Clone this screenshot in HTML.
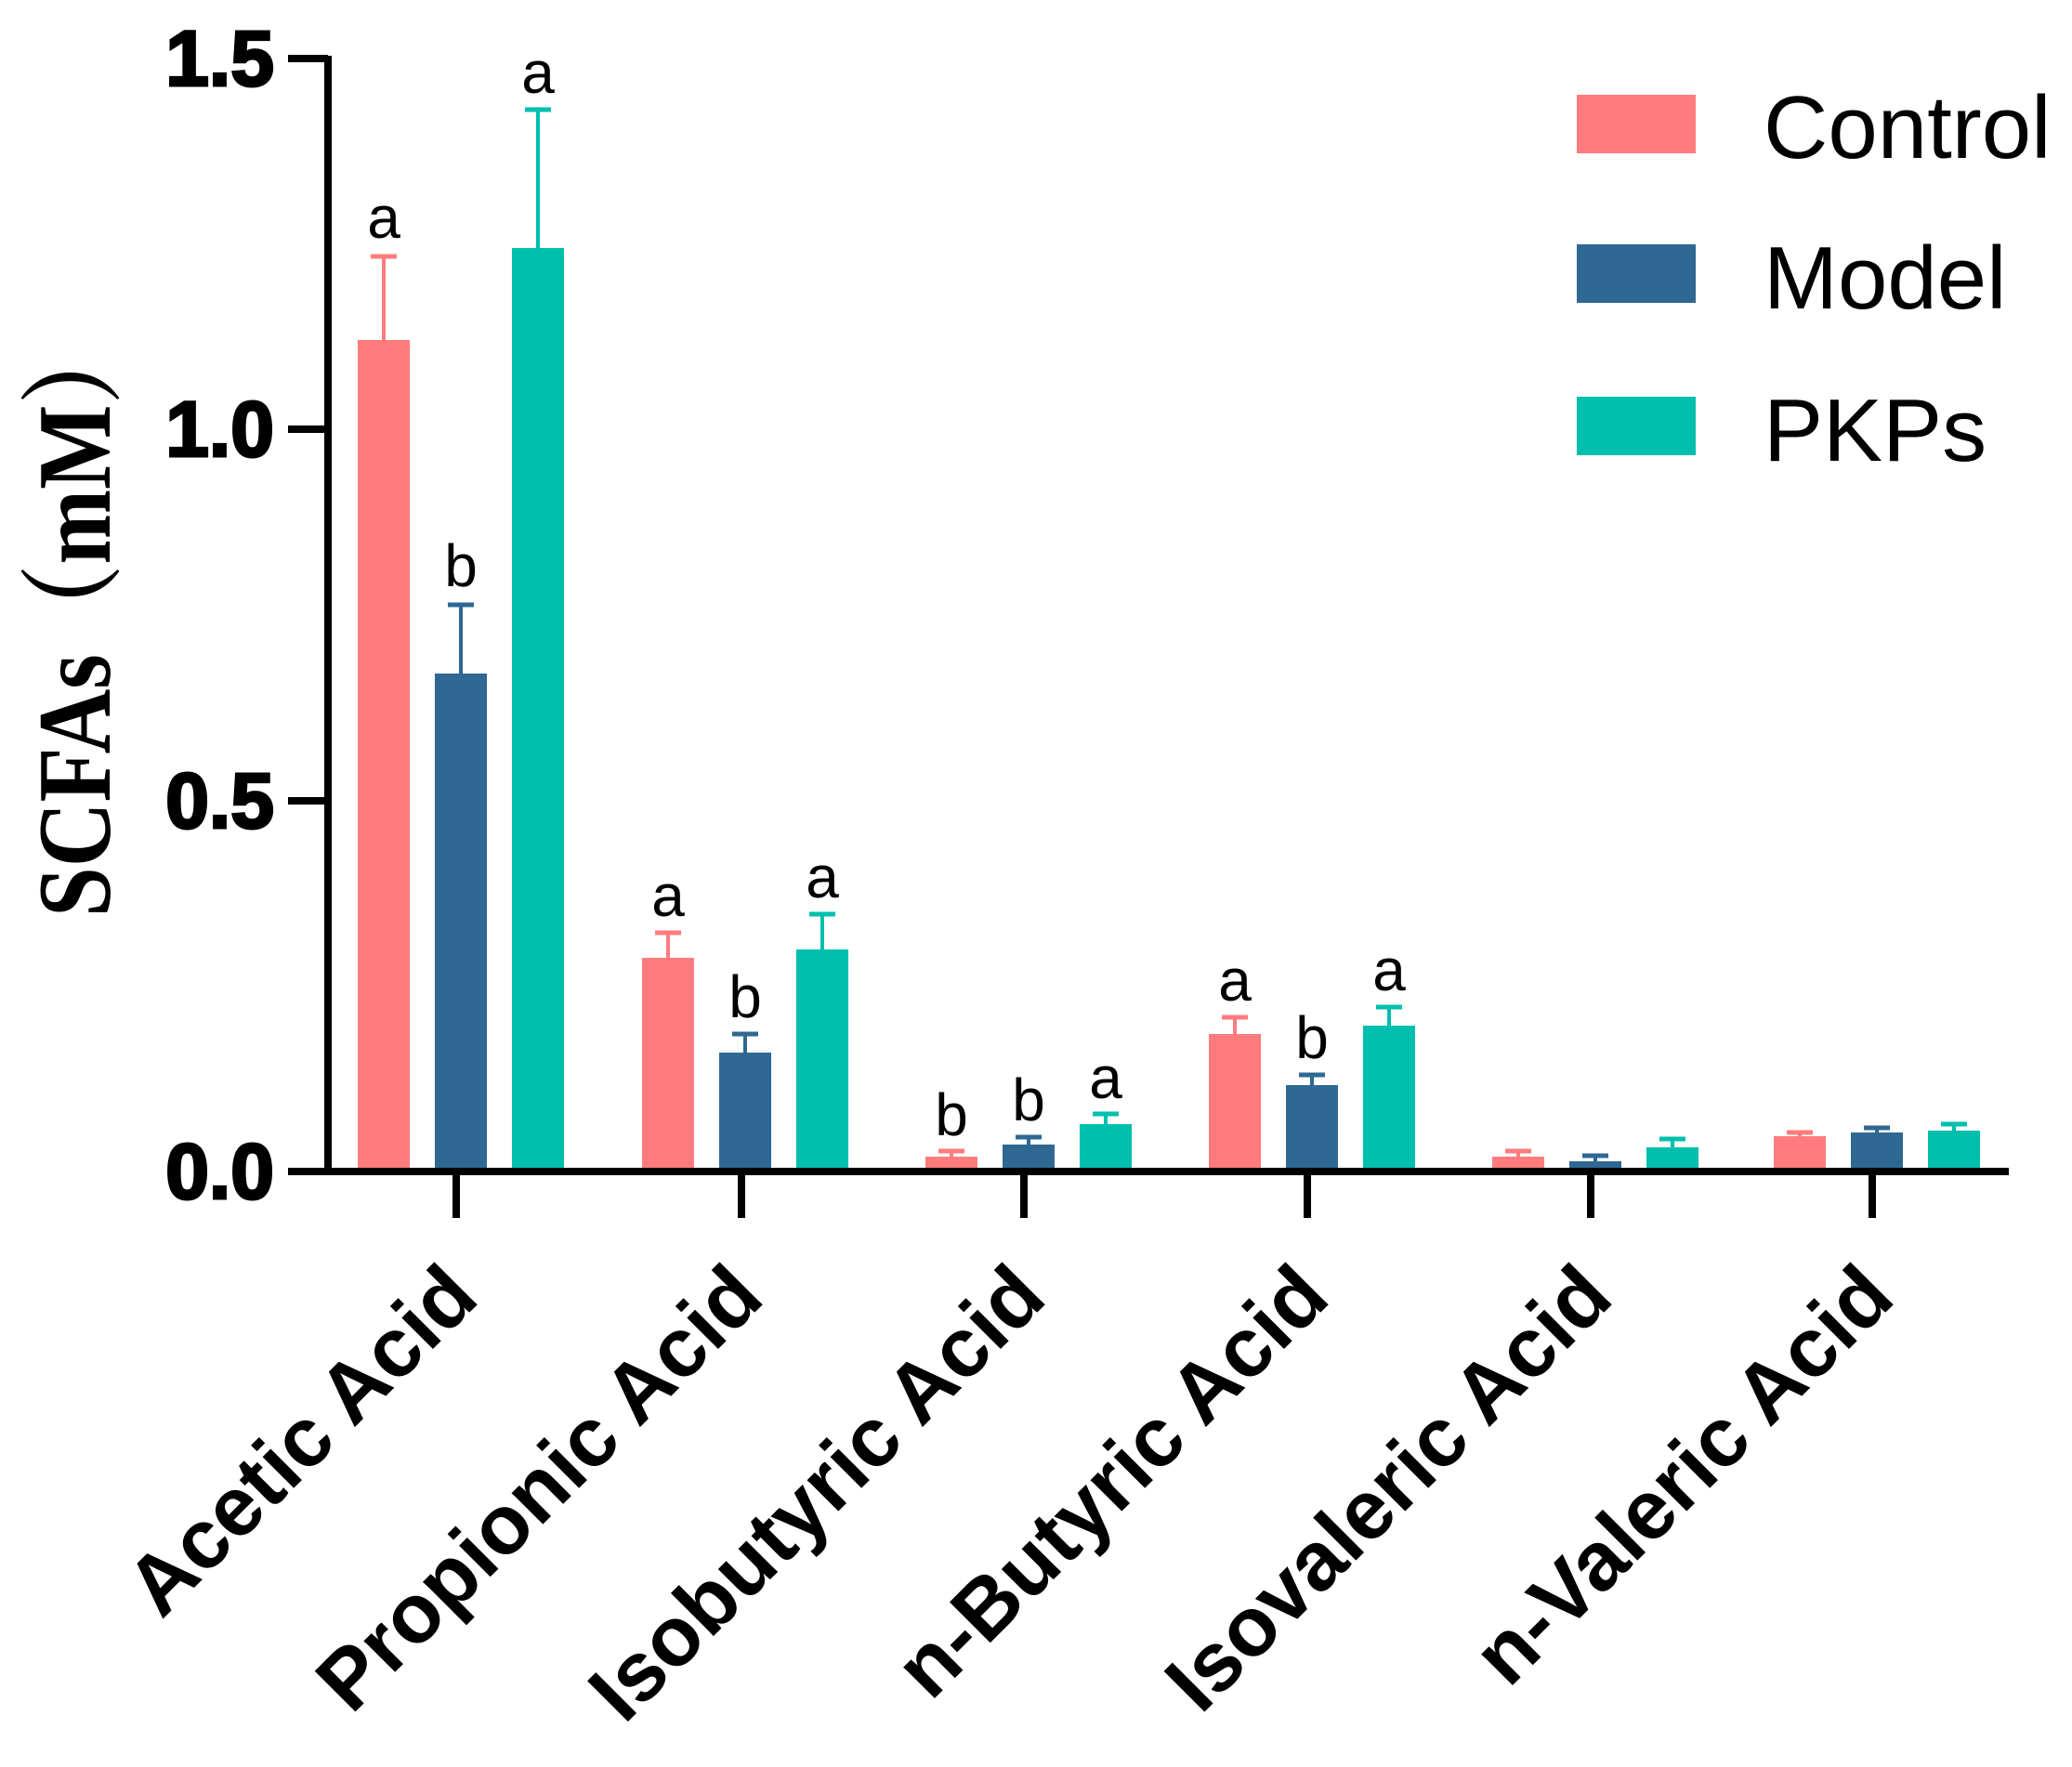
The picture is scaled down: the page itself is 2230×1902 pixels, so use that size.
<!DOCTYPE html>
<html><head><meta charset="utf-8"><style>html,body{margin:0;padding:0;background:#fff}svg{display:block}</style></head>
<body>
<svg width="2230" height="1902" viewBox="0 0 2230 1902" xmlns="http://www.w3.org/2000/svg">
<g stroke-width="4">
<rect x="385" y="366" width="56" height="895" fill="#FF7B7E"/><line x1="413" y1="366" x2="413" y2="276" stroke="#FF7B7E"/><line x1="399" y1="276" x2="427" y2="276" stroke="#FF7B7E" stroke-width="5"/>
<rect x="468" y="725" width="56" height="536" fill="#2E6893"/><line x1="496" y1="725" x2="496" y2="651" stroke="#2E6893"/><line x1="482" y1="651" x2="510" y2="651" stroke="#2E6893" stroke-width="5"/>
<rect x="551" y="267" width="56" height="994" fill="#00BFAD"/><line x1="579" y1="267" x2="579" y2="118" stroke="#00BFAD"/><line x1="565" y1="118" x2="593" y2="118" stroke="#00BFAD" stroke-width="5"/>
<rect x="691" y="1031" width="56" height="230" fill="#FF7B7E"/><line x1="719" y1="1031" x2="719" y2="1004" stroke="#FF7B7E"/><line x1="705" y1="1004" x2="733" y2="1004" stroke="#FF7B7E" stroke-width="5"/>
<rect x="774" y="1133" width="56" height="128" fill="#2E6893"/><line x1="802" y1="1133" x2="802" y2="1113" stroke="#2E6893"/><line x1="788" y1="1113" x2="816" y2="1113" stroke="#2E6893" stroke-width="5"/>
<rect x="857" y="1022" width="56" height="239" fill="#00BFAD"/><line x1="885" y1="1022" x2="885" y2="984" stroke="#00BFAD"/><line x1="871" y1="984" x2="899" y2="984" stroke="#00BFAD" stroke-width="5"/>
<rect x="996" y="1245" width="56" height="16" fill="#FF7B7E"/><line x1="1024" y1="1245" x2="1024" y2="1239" stroke="#FF7B7E"/><line x1="1010" y1="1239" x2="1038" y2="1239" stroke="#FF7B7E" stroke-width="5"/>
<rect x="1079" y="1232" width="56" height="29" fill="#2E6893"/><line x1="1107" y1="1232" x2="1107" y2="1224" stroke="#2E6893"/><line x1="1093" y1="1224" x2="1121" y2="1224" stroke="#2E6893" stroke-width="5"/>
<rect x="1162" y="1210" width="56" height="51" fill="#00BFAD"/><line x1="1190" y1="1210" x2="1190" y2="1199" stroke="#00BFAD"/><line x1="1176" y1="1199" x2="1204" y2="1199" stroke="#00BFAD" stroke-width="5"/>
<rect x="1301" y="1113" width="56" height="148" fill="#FF7B7E"/><line x1="1329" y1="1113" x2="1329" y2="1095" stroke="#FF7B7E"/><line x1="1315" y1="1095" x2="1343" y2="1095" stroke="#FF7B7E" stroke-width="5"/>
<rect x="1384" y="1168" width="56" height="93" fill="#2E6893"/><line x1="1412" y1="1168" x2="1412" y2="1157" stroke="#2E6893"/><line x1="1398" y1="1157" x2="1426" y2="1157" stroke="#2E6893" stroke-width="5"/>
<rect x="1467" y="1104" width="56" height="157" fill="#00BFAD"/><line x1="1495" y1="1104" x2="1495" y2="1084" stroke="#00BFAD"/><line x1="1481" y1="1084" x2="1509" y2="1084" stroke="#00BFAD" stroke-width="5"/>
<rect x="1606" y="1245" width="56" height="16" fill="#FF7B7E"/><line x1="1634" y1="1245" x2="1634" y2="1239" stroke="#FF7B7E"/><line x1="1620" y1="1239" x2="1648" y2="1239" stroke="#FF7B7E" stroke-width="5"/>
<rect x="1689" y="1250" width="56" height="11" fill="#2E6893"/><line x1="1717" y1="1250" x2="1717" y2="1244" stroke="#2E6893"/><line x1="1703" y1="1244" x2="1731" y2="1244" stroke="#2E6893" stroke-width="5"/>
<rect x="1772" y="1235" width="56" height="26" fill="#00BFAD"/><line x1="1800" y1="1235" x2="1800" y2="1226" stroke="#00BFAD"/><line x1="1786" y1="1226" x2="1814" y2="1226" stroke="#00BFAD" stroke-width="5"/>
<rect x="1909" y="1223" width="56" height="38" fill="#FF7B7E"/><line x1="1937" y1="1223" x2="1937" y2="1219" stroke="#FF7B7E"/><line x1="1923" y1="1219" x2="1951" y2="1219" stroke="#FF7B7E" stroke-width="5"/>
<rect x="1992" y="1219" width="56" height="42" fill="#2E6893"/><line x1="2020" y1="1219" x2="2020" y2="1214" stroke="#2E6893"/><line x1="2006" y1="1214" x2="2034" y2="1214" stroke="#2E6893" stroke-width="5"/>
<rect x="2075" y="1217" width="56" height="44" fill="#00BFAD"/><line x1="2103" y1="1217" x2="2103" y2="1210" stroke="#00BFAD"/><line x1="2089" y1="1210" x2="2117" y2="1210" stroke="#00BFAD" stroke-width="5"/>
</g>
<g font-family="Liberation Sans, sans-serif" font-size="64" text-anchor="middle">
<text x="413" y="256">a</text><text x="496" y="631">b</text><text x="579" y="100">a</text>
<text x="719" y="986">a</text><text x="802" y="1095">b</text><text x="885" y="966">a</text>
<text x="1024" y="1222">b</text><text x="1107" y="1206">b</text><text x="1190" y="1182">a</text>
<text x="1329" y="1077">a</text><text x="1412" y="1139">b</text><text x="1495" y="1066">a</text>
</g>
<line x1="353" y1="60" x2="353" y2="1265" stroke="#000" stroke-width="8"/>
<line x1="349" y1="1261" x2="2162" y2="1261" stroke="#000" stroke-width="8"/>
<g stroke="#000" stroke-width="8">
<line x1="310" y1="63" x2="353" y2="63"/>
<line x1="310" y1="462" x2="353" y2="462"/>
<line x1="310" y1="862" x2="353" y2="862"/>
<line x1="310" y1="1261" x2="353" y2="1261"/>
<line x1="491" y1="1261" x2="491" y2="1311"/>
<line x1="798" y1="1261" x2="798" y2="1311"/>
<line x1="1102" y1="1261" x2="1102" y2="1311"/>
<line x1="1407" y1="1261" x2="1407" y2="1311"/>
<line x1="1712" y1="1261" x2="1712" y2="1311"/>
<line x1="2015" y1="1261" x2="2015" y2="1311"/>
</g>
<g font-family="Liberation Sans, sans-serif" font-weight="bold" font-size="84" text-anchor="end" stroke="#000" stroke-width="3">
<text x="295" y="92">1.5</text>
<text x="295" y="491">1.0</text>
<text x="295" y="891">0.5</text>
<text x="295" y="1290">0.0</text>
</g>
<text transform="translate(118,663) rotate(-90)" font-family="Liberation Serif, 'Noto Serif CJK SC', serif" font-weight="bold" font-size="112" text-anchor="middle" textLength="648" lengthAdjust="spacingAndGlyphs">SCFAs（mM）</text>
<g font-family="Liberation Sans, sans-serif" font-weight="bold" font-size="90" text-anchor="end">
<text transform="translate(518,1400) rotate(-45)">Acetic Acid</text>
<text transform="translate(825,1400) rotate(-45)">Propionic Acid</text>
<text transform="translate(1129,1400) rotate(-45)">Isobutyric Acid</text>
<text transform="translate(1434,1400) rotate(-45)">n-Butyric Acid</text>
<text transform="translate(1739,1400) rotate(-45)">Isovaleric Acid</text>
<text transform="translate(2042,1400) rotate(-45)">n-Valeric Acid</text>
</g>
<rect x="1697" y="102" width="128" height="63" fill="#FF7B7E"/>
<rect x="1697" y="263" width="128" height="63" fill="#2E6893"/>
<rect x="1697" y="427" width="128" height="63" fill="#00BFAD"/>
<g font-family="Liberation Sans, sans-serif" font-size="96">
<text x="1898" y="170">Control</text>
<text x="1898" y="332">Model</text>
<text x="1898" y="496">PKPs</text>
</g>
</svg>
</body></html>
